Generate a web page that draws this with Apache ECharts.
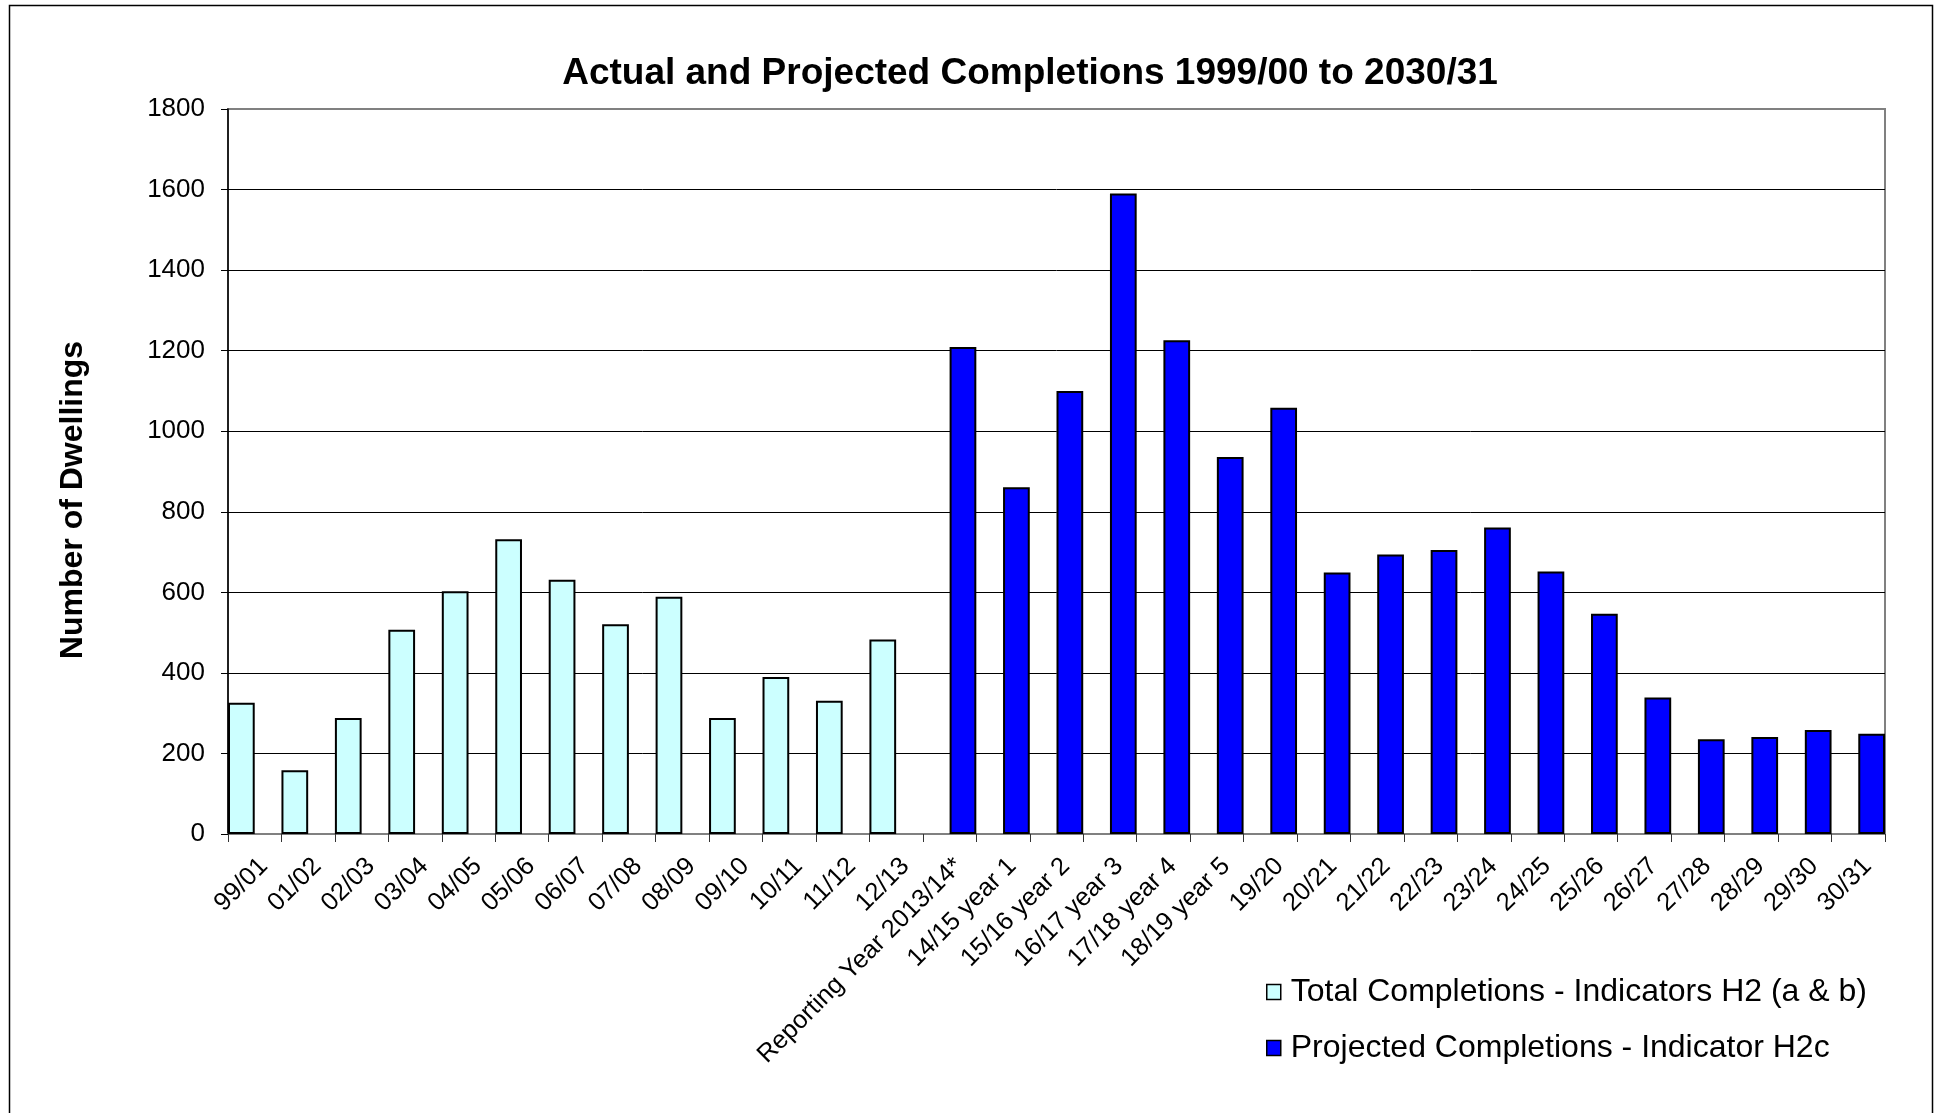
<!DOCTYPE html>
<html>
<head>
<meta charset="utf-8">
<title>Actual and Projected Completions 1999/00 to 2030/31</title>
<script src="https://cdn.jsdelivr.net/npm/echarts@6/dist/echarts.min.js"></script>
<style>
  html, body { margin: 0; padding: 0; background: #fff; }
  #chart { width: 1951px; height: 1113px; }
</style>
</head>
<body>
<div id="chart"></div>
<script>
// Financial years on the category axis
var categories = [
  '99/01', '01/02', '02/03', '03/04', '04/05', '05/06', '06/07', '07/08',
  '08/09', '09/10', '10/11', '11/12', '12/13', 'Reporting Year 2013/14*',
  '14/15 year 1', '15/16 year 2', '16/17 year 3', '17/18 year 4', '18/19 year 5',
  '19/20', '20/21', '21/22', '22/23', '23/24', '24/25', '25/26', '26/27',
  '27/28', '28/29', '29/30', '30/31'
];

// Actual completions, 99/01 to 12/13
var totalCompletions = [326, 158, 288, 507, 603, 732, 631, 521, 589, 288, 390, 331, 483];

// Projected completions, reporting year 2013/14 to 30/31
var projectedCompletions = [1209, 861, 1100, 1590, 1226, 936, 1058, 649, 694, 705,
                            761, 652, 547, 339, 235, 241, 258, 249];

var yTicks = { min: 0, max: 1800, interval: 200 };

var seriesNames = [
  'Total Completions - Indicators H2 (a & b)',
  'Projected Completions - Indicator H2c'
];

// Each series occupies its own half of every category slot
var totalData = categories.map(function (c, i) {
  return i < totalCompletions.length ? totalCompletions[i] : '-';
});
var projStart = categories.length - projectedCompletions.length;
var projectedData = categories.map(function (c, i) {
  return i >= projStart ? projectedCompletions[i - projStart] : '-';
});

var FONT = 'Liberation Sans, Arial, sans-serif';

var chart = echarts.init(document.getElementById('chart'), null, { renderer: 'canvas' });

chart.setOption({
  backgroundColor: '#ffffff',
  animation: false,
  textStyle: { fontFamily: FONT, color: '#000' },
  title: {
    text: 'Actual and Projected Completions 1999/00 to 2030/31',
    left: 1030,
    top: 55,
    textAlign: 'center',
    padding: 0,
    textStyle: { fontFamily: FONT, fontWeight: 'bold', fontSize: 37, color: '#000' }
  },
  graphic: [
    {
      type: 'rect',
      silent: true,
      z: -10,
      shape: { x: 9.5, y: 5.5, width: 1923, height: 1200 },
      style: { fill: 'none', stroke: '#000', lineWidth: 1.5 }
    },
    {
      type: 'text',
      x: 73,
      y: 500,
      rotation: Math.PI / 2,
      style: {
        text: 'Number of Dwellings',
        font: 'bold 32px ' + FONT,
        fill: '#000',
        align: 'center',
        verticalAlign: 'middle',
        textAlign: 'center',
        textVerticalAlign: 'middle'
      }
    }
  ],
  legend: {
    orient: 'vertical',
    left: 1266,
    top: 976,
    padding: 0,
    itemWidth: 14,
    itemHeight: 15,
    itemGap: 24,
    icon: 'rect',
    itemStyle: { borderColor: '#000', borderWidth: 1.5 },
    textStyle: { fontFamily: FONT, fontSize: 32, color: '#000', padding: [0, 0, 0, 5] },
    data: seriesNames
  },
  grid: {
    left: 228,
    top: 109,
    width: 1657,
    height: 725,
    show: true,
    backgroundColor: '#ffffff',
    borderColor: '#808080',
    borderWidth: 2
  },
  xAxis: {
    type: 'category',
    data: categories,
    boundaryGap: true,
    axisLine: { show: true, lineStyle: { color: '#808080', width: 2 } },
    axisTick: { show: true, alignWithLabel: false, length: 8, lineStyle: { color: '#333', width: 1 } },
    axisLabel: {
      interval: 0,
      rotate: 45,
      margin: 19,
      verticalAlign: 'top',
      fontFamily: FONT,
      fontSize: 25.5,
      color: '#000'
    },
    splitLine: { show: false }
  },
  yAxis: {
    type: 'value',
    min: yTicks.min,
    max: yTicks.max,
    interval: yTicks.interval,
    axisLine: { show: true, lineStyle: { color: '#000', width: 1.5 } },
    axisTick: { show: true, length: 7, lineStyle: { color: '#000', width: 1 } },
    axisLabel: {
      margin: 23,
      fontFamily: FONT,
      fontSize: 26,
      color: '#000',
      formatter: function (v) { return String(v); }
    },
    splitLine: { show: true, showMaxLine: false, lineStyle: { color: '#000', width: 1 } }
  },
  series: [
    {
      name: seriesNames[0],
      type: 'bar',
      data: totalData,
      barGap: '0%',
      barCategoryGap: '0%',
      itemStyle: { color: '#CCFFFF', borderColor: '#000', borderWidth: 2 }
    },
    {
      name: seriesNames[1],
      type: 'bar',
      data: projectedData,
      barGap: '0%',
      barCategoryGap: '0%',
      itemStyle: { color: '#0000FF', borderColor: '#000', borderWidth: 2 }
    }
  ]
});
</script>
</body>
</html>
